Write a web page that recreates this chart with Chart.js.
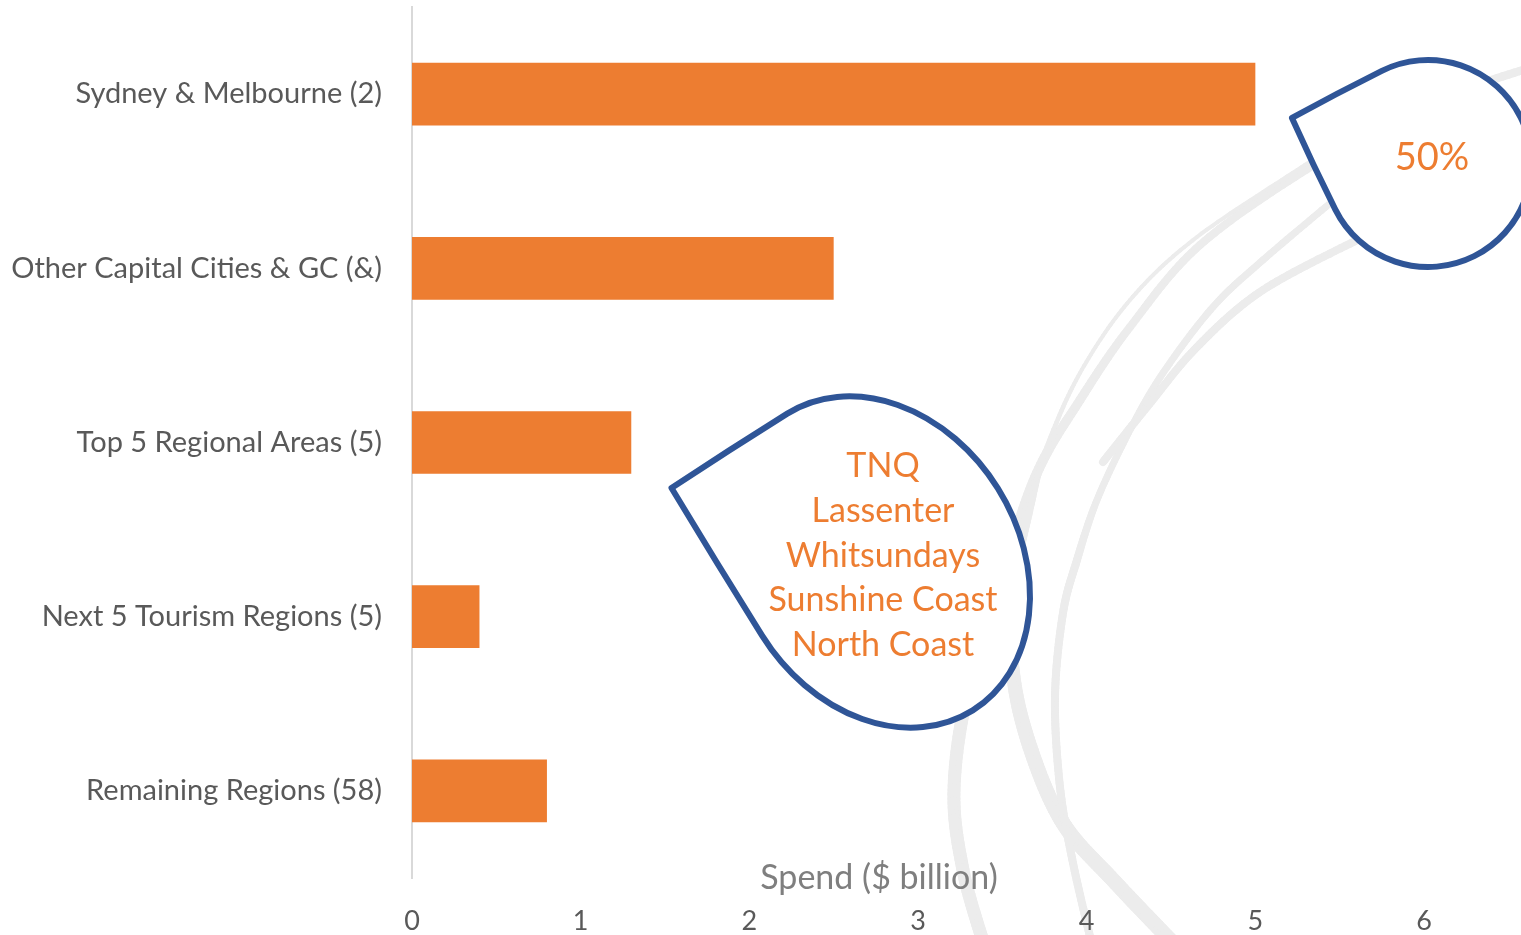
<!DOCTYPE html>
<html>
<head>
<meta charset="utf-8">
<script src="https://cdn.jsdelivr.net/npm/chart.js@4.4.0/dist/chart.umd.min.js"></script>
<style>
  html, body { margin: 0; padding: 0; background: #fff; overflow: hidden; }
  #wrap { width: 1521px; height: 935px; position: relative; }
</style>
</head>
<body>
<div id="wrap"><canvas id="spendChart"></canvas></div>
<script>
const regions = [
  'Sydney & Melbourne (2)',
  'Other Capital Cities & GC (&)',
  'Top 5 Regional Areas (5)',
  'Next 5 Tourism Regions (5)',
  'Remaining Regions (58)'
];
const spend = [5.0, 2.5, 1.3, 0.4, 0.8];
const xTicks = [0, 1, 2, 3, 4, 5, 6];
const axisTitle = 'Spend ($ billion)';
const topShare = '50%';
const topRegions = ['TNQ', 'Lassenter', 'Whitsundays', 'Sunshine Coast', 'North Coast'];

const ORANGE = '#ED7D31';
const BLUE = '#2F5597';
const SWOOSH = '#ececec';
const FONT = 'Lato, "Open Sans", sans-serif';

// background swooshes: [x, y, width] control points
const swooshes = [
  [[1535,66,8],[1420,106,9],[1312,166,8],[1200,245,8],[1130,327,8],[1080,400,9],[1037,473,10],[1005,570,12],[968,690,13],[954,790,13],[963,870,13],[984,945,13]],
  [[1308,163,4],[1197,237,4],[1130,300,4],[1080,373,4],[1047,447,5],[1030,507,8],[1012,590,12],[1013,673,14],[1030,747,15],[1063,823,15],[1113,880,15],[1175,945,15]],
  [[1340,195,7],[1263,260,7],[1213,307,7],[1163,373,7],[1130,430,7],[1097,500,7],[1077,560,8],[1063,613,8],[1055,697,8],[1060,787,8],[1073,863,8],[1092,945,8]],
  [[1365,236,8],[1263,290,8],[1197,347,8],[1147,407,8],[1103,462,8]]
];

function drawSwoosh(ctx, pts){
  ctx.strokeStyle = SWOOSH;
  ctx.lineCap = 'round';
  for(let i = 0; i < pts.length - 1; i++){
    const p0 = pts[i-1] || pts[i], p1 = pts[i], p2 = pts[i+1], p3 = pts[i+2] || pts[i+1];
    let prev = null;
    for(let s = 0; s <= 20; s++){
      const t = s / 20, t2 = t*t, t3 = t2*t;
      const f = (a,b,c,d) => 0.5*((2*b) + (-a+c)*t + (2*a-5*b+4*c-d)*t2 + (-a+3*b-3*c+d)*t3);
      const x = f(p0[0],p1[0],p2[0],p3[0]);
      const y = f(p0[1],p1[1],p2[1],p3[1]);
      if(prev){
        ctx.lineWidth = p1[2] + (p2[2]-p1[2])*t;
        ctx.beginPath();
        ctx.moveTo(prev[0], prev[1]);
        ctx.lineTo(x, y);
        ctx.stroke();
      }
      prev = [x, y];
    }
  }
}

// Office-style teardrop: ellipse with one pointed corner
function teardrop(ctx, cx, cy, wd2, hd2, rotDeg, adj){
  ctx.save();
  ctx.translate(cx, cy);
  ctx.rotate(rotDeg * Math.PI / 180);
  const x1 = wd2*adj, y1 = -hd2*adj;
  ctx.beginPath();
  ctx.moveTo(-wd2, 0);
  ctx.ellipse(0, 0, wd2, hd2, 0, Math.PI, 1.5*Math.PI);
  ctx.quadraticCurveTo(x1/2, -hd2, x1, y1);
  ctx.quadraticCurveTo(wd2, y1/2, wd2, 0);
  ctx.ellipse(0, 0, wd2, hd2, 0, 0, Math.PI);
  ctx.closePath();
  ctx.restore();
  ctx.fillStyle = '#fff';
  ctx.fill();
  ctx.lineWidth = 6;
  ctx.lineJoin = 'round';
  ctx.strokeStyle = BLUE;
  ctx.stroke();
}

const decorations = {
  id: 'decorations',
  beforeDraw(c){
    const ctx = c.ctx;
    ctx.save();
    swooshes.forEach(p => drawSwoosh(ctx, p));
    ctx.restore();
  },
  afterDraw(c){
    const ctx = c.ctx;
    ctx.save();
    // axis title sits just above the tick labels
    ctx.fillStyle = '#7f7f7f';
    ctx.font = '34px ' + FONT;
    ctx.textAlign = 'center';
    ctx.textBaseline = 'middle';
    ctx.fillText(axisTitle, 879, c.chartArea.bottom);

    teardrop(ctx, 1428, 163.5, 103.5, 103.5, 243.5, 0.98);
    teardrop(ctx, 880, 562, 175, 139, 238, 0.99);

    ctx.fillStyle = ORANGE;
    ctx.font = '38px ' + FONT;
    ctx.fillText(topShare, 1432, 158);
    ctx.font = '34px ' + FONT;
    topRegions.forEach((t, i) => ctx.fillText(t, 883, 466 + i*44.8));
    ctx.restore();
  }
};

new Chart(document.getElementById('spendChart'), {
  type: 'bar',
  data: {
    labels: regions,
    datasets: [{
      data: spend,
      backgroundColor: ORANGE,
      barPercentage: 0.36,
      categoryPercentage: 1
    }]
  },
  options: {
    indexAxis: 'y',
    responsive: true,
    maintainAspectRatio: false,
    animation: false,
    layout: { padding: { top: 7, left: 0, right: 0, bottom: 0 } },
    plugins: { legend: { display: false }, tooltip: { enabled: false } },
    scales: {
      x: {
        min: 0,
        max: 6.575,
        afterBuildTicks: s => { s.ticks = xTicks.map(v => ({ value: v })); },
        afterFit: s => { s.height = 57; s.paddingLeft = 0; s.paddingRight = 0; },
        grid: { display: false, drawTicks: false },
        border: { display: false },
        ticks: { color: '#595959', font: { family: FONT, size: 27 }, padding: 27 }
      },
      y: {
        afterFit: s => { s.width = 412; s.paddingTop = 0; s.paddingBottom = 0; },
        grid: { display: false, drawTicks: false },
        border: { color: '#d9d9d9', width: 2 },
        ticks: { color: '#595959', font: { family: FONT, size: 29 }, padding: 30 }
      }
    }
  },
  plugins: [decorations]
});
</script>
</body>
</html>
